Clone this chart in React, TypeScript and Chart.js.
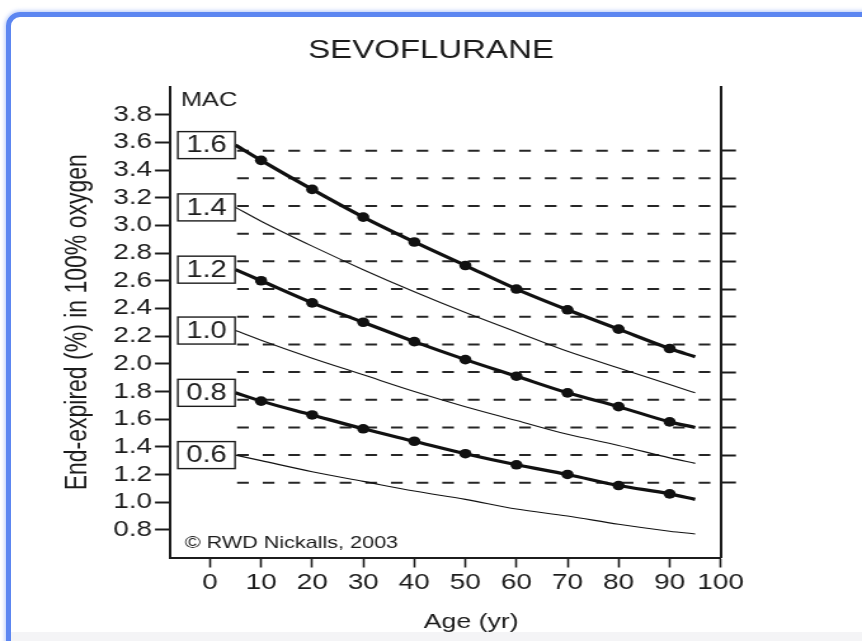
import React, { useEffect, useRef } from 'react';
import { Chart, registerables } from 'chart.js';

Chart.register(...registerables);

// ---- data ----
const ages = [5, 10, 20, 30, 40, 50, 60, 70, 80, 90, 95];
const mac16 = [3.58, 3.47, 3.26, 3.06, 2.88, 2.71, 2.54, 2.39, 2.25, 2.11, 2.05];
const mac14 = [3.13, 3.03, 2.85, 2.68, 2.52, 2.37, 2.23, 2.09, 1.97, 1.85, 1.79];
const mac12 = [2.68, 2.6, 2.44, 2.3, 2.16, 2.03, 1.91, 1.79, 1.69, 1.58, 1.54];
const mac10 = [2.24, 2.17, 2.04, 1.92, 1.8, 1.69, 1.59, 1.49, 1.41, 1.32, 1.28];
const mac08 = [1.79, 1.73, 1.63, 1.53, 1.44, 1.35, 1.27, 1.2, 1.12, 1.06, 1.02];
const mac06 = [1.34, 1.3, 1.22, 1.15, 1.08, 1.02, 0.95, 0.9, 0.84, 0.79, 0.77];
const macLabels = ['1.6', '1.4', '1.2', '1.0', '0.8', '0.6'];
const macSeries = [mac16, mac14, mac12, mac10, mac08, mac06];
const markedSeries = [true, false, true, false, true, false];
const refLevels = [3.54, 3.34, 3.14, 2.94, 2.74, 2.54, 2.34, 2.14, 1.94, 1.74, 1.54, 1.34, 1.14];
const yTicks = [0.8, 1.0, 1.2, 1.4, 1.6, 1.8, 2.0, 2.2, 2.4, 2.6, 2.8, 3.0, 3.2, 3.4, 3.6, 3.8];
const xTicks = [0, 10, 20, 30, 40, 50, 60, 70, 80, 90, 100];

const titleText = 'SEVOFLURANE';
const xTitle = 'Age (yr)';
const yTitle = 'End-expired (%) in 100% oxygen';
const macHeader = 'MAC';
const copyright = '\u00A9 RWD Nickalls, 2003';

// ---- layout constants ----
const W = 862;
const H = 641;
const CW = 679; // canvas drawing width, shown stretched to W
const SX = W / CW;
const FONT = '"Liberation Sans", Arial, Helvetica, sans-serif';
const INK = '#1c1c1c';
const X_MIN = -7.7;
const X_MAX = 100;
const Y_MIN = 0.6;
const Y_MAX = 4.0;
const BOX_FROM = -6.3;
const BOX_TO = 4.9;
const DASH_FROM = 5.3;
const PLOT_LEFT = 170.7 / SX;
const PLOT_RIGHT = 720.7 / SX;
const PLOT_BOTTOM = 557.5;
const XTITLE_SHIFT = 20;
const XTITLE_Y = 622;

const annotPlugin = {
  id: 'annot',
  afterDatasetsDraw(chart: any) {
    const { ctx, chartArea, scales } = chart;
    const x = scales.x;
    const y = scales.y;
    ctx.save();
    macSeries.forEach((s, i) => {
      const cy = y.getPixelForValue(s[0]);
      const x1 = x.getPixelForValue(BOX_FROM);
      const x2 = x.getPixelForValue(BOX_TO);
      const h = 27;
      ctx.fillStyle = '#ffffff';
      ctx.fillRect(x1, cy - h / 2, x2 - x1, h);
      ctx.strokeStyle = INK;
      ctx.lineWidth = 1.4;
      ctx.strokeRect(x1, cy - h / 2, x2 - x1, h);
      ctx.fillStyle = INK;
      ctx.font = `23px ${FONT}`;
      ctx.textAlign = 'center';
      ctx.textBaseline = 'middle';
      ctx.fillText(macLabels[i], (x1 + x2) / 2, cy + 1);
    });
    ctx.textAlign = 'left';
    ctx.textBaseline = 'middle';
    ctx.fillStyle = INK;
    ctx.font = `20px ${FONT}`;
    ctx.fillText(macHeader, chartArea.left + 8, 100);
    ctx.font = `17px ${FONT}`;
    ctx.fillText(copyright, chartArea.left + 11, 543);
    ctx.textAlign = 'center';
    ctx.font = `21px ${FONT}`;
    ctx.fillText(xTitle, (chartArea.left + chartArea.right) / 2 + XTITLE_SHIFT, XTITLE_Y);
    ctx.restore();
  },
};

export default function App() {
  const ref = useRef<HTMLCanvasElement | null>(null);

  useEffect(() => {
    if (!ref.current) return;
    const datasets: any[] = [
      ...macSeries.map((s, i) => ({
        label: 'MAC ' + macLabels[i],
        data: ages.map((a, j) => ({ x: a, y: s[j] })),
        borderColor: '#111',
        borderWidth: markedSeries[i] ? 3.2 : 1.1,
        pointRadius: (c: any) =>
          markedSeries[i] && c.dataIndex > 0 && c.dataIndex < ages.length - 1 ? 4.8 : 0,
        pointBackgroundColor: '#111',
        pointBorderWidth: 0,
        cubicInterpolationMode: 'monotone',
        fill: false,
      })),
      ...refLevels.map((l) => ({
        label: 'ref ' + l,
        data: [
          { x: DASH_FROM, y: l },
          { x: X_MAX, y: l },
        ],
        borderColor: '#262626',
        borderWidth: 2,
        borderDash: [9.2, 11],
        pointRadius: 0,
        fill: false,
      })),
    ];

    const chart = new Chart(ref.current, {
      type: 'line',
      data: { datasets },
      plugins: [annotPlugin],
      options: {
        responsive: false,
        animation: false,
        events: [],
        layout: { padding: 0 },
        plugins: {
          legend: { display: false },
          tooltip: { enabled: false },
          title: {
            display: true,
            text: titleText,
            color: INK,
            font: { family: FONT, size: 26, weight: 'normal' },
            padding: { top: 35, bottom: 87 - 35 - 26 * 1.2 },
          },
        },
        scales: {
          x: {
            type: 'linear',
            min: X_MIN,
            max: X_MAX,
            afterBuildTicks: (s: any) => {
              s.ticks = xTicks.map((v) => ({ value: v }));
            },
            afterFit: (s: any) => {
              s.height = H - PLOT_BOTTOM;
            },
            ticks: {
              color: INK,
              font: { family: FONT, size: 22 },
              padding: 2,
              maxRotation: 0,
              callback: (v: any) => String(v),
            },
            grid: {
              drawOnChartArea: false,
              drawTicks: true,
              tickLength: 10,
              tickWidth: 1.6,
              tickColor: INK,
            },
            border: { display: true, color: INK, width: 2 },
            title: { display: false },
          },
          y: {
            type: 'linear',
            position: 'left',
            min: Y_MIN,
            max: Y_MAX,
            afterBuildTicks: (s: any) => {
              s.ticks = yTicks.map((v) => ({ value: v }));
            },
            afterFit: (s: any) => {
              s.width = PLOT_LEFT;
            },
            ticks: {
              color: INK,
              font: { family: FONT, size: 22 },
              padding: 2.3,
              callback: (v: any) => Number(v).toFixed(1),
            },
            grid: {
              drawOnChartArea: false,
              drawTicks: true,
              tickLength: 12.4,
              tickWidth: 2,
              tickColor: INK,
            },
            border: { display: true, color: INK, width: 2 },
            title: {
              display: true,
              text: yTitle,
              color: INK,
              font: { family: FONT, size: 23 },
              padding: { top: 48, bottom: 0 },
            },
          },
          y2: {
            type: 'linear',
            position: 'right',
            min: Y_MIN,
            max: Y_MAX,
            afterBuildTicks: (s: any) => {
              s.ticks = refLevels.map((v) => ({ value: v }));
            },
            afterFit: (s: any) => {
              s.width = CW - PLOT_RIGHT;
            },
            ticks: { display: false },
            grid: {
              drawOnChartArea: false,
              drawTicks: true,
              tickLength: 12,
              tickWidth: 2,
              tickColor: INK,
            },
            border: { display: true, color: INK, width: 2 },
          },
        },
      } as any,
    });
    return () => chart.destroy();
  }, []);

  return (
    <div
      style={{
        position: 'absolute',
        left: 0,
        top: 0,
        width: W,
        height: H,
        overflow: 'hidden',
        background: '#ffffff',
      }}
    >
      <div
        style={{
          position: 'absolute',
          left: 6,
          top: 12,
          width: 920,
          height: 720,
          border: '5px solid #5c86f1',
          borderRadius: 14,
          boxShadow: '0 0 4px 1px rgba(92,134,241,0.45)',
        }}
      />
      <div
        style={{
          position: 'absolute',
          left: 11,
          top: 632,
          width: W,
          height: H - 632,
          background: '#f4f4f6',
        }}
      />
      <canvas
        ref={ref}
        width={CW}
        height={H}
        style={{ position: 'absolute', left: 0, top: 0, width: W, height: H }}
      />
    </div>
  );
}
